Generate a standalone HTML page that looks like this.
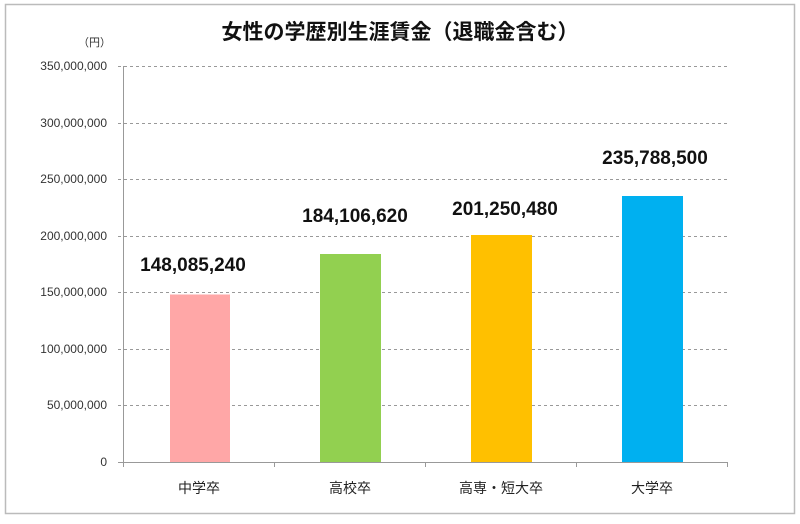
<!DOCTYPE html><html><head><meta charset="utf-8"><style>
body{margin:0;background:#fff;font-family:"Liberation Sans","Noto Sans CJK JP",sans-serif}
</style></head><body>
<svg width="800" height="519" xmlns="http://www.w3.org/2000/svg" font-family="Liberation Sans, Noto Sans CJK JP, sans-serif">
<rect x="5.5" y="4.5" width="789" height="509" fill="#fff" stroke="#bbb" stroke-width="1.5"/>
<text x="400" y="39" text-anchor="middle" font-size="21" font-weight="bold" fill="#111">女性の学歴別生涯賃金（退職金含む）</text>
<text x="111" y="46" text-anchor="end" font-size="11" fill="#333">（円）</text>
<g stroke="#999" stroke-dasharray="3,3" stroke-width="1">
<line x1="118" y1="66.5" x2="727" y2="66.5"/><line x1="118" y1="123.5" x2="727" y2="123.5"/>
<line x1="118" y1="179.5" x2="727" y2="179.5"/><line x1="118" y1="236.5" x2="727" y2="236.5"/>
<line x1="118" y1="292.5" x2="727" y2="292.5"/><line x1="118" y1="349.5" x2="727" y2="349.5"/>
<line x1="118" y1="405.5" x2="727" y2="405.5"/>
</g>
<g font-size="12" fill="#333" text-anchor="end">
<text x="107" y="70">350,000,000</text><text x="107" y="127">300,000,000</text>
<text x="107" y="183">250,000,000</text><text x="107" y="240">200,000,000</text>
<text x="107" y="296">150,000,000</text><text x="107" y="353">100,000,000</text>
<text x="107" y="409">50,000,000</text><text x="107" y="466">0</text>
</g>
<rect x="170" y="294.5" width="60" height="168" fill="#ffa7a7"/>
<rect x="320" y="254" width="61" height="208.5" fill="#92d050"/>
<rect x="471" y="235" width="61" height="227.5" fill="#ffc000"/>
<rect x="622" y="196" width="61" height="266.5" fill="#00b0f0"/>
<g stroke="#999" stroke-width="1">
<line x1="123.5" y1="66" x2="123.5" y2="467"/>
<line x1="118" y1="462.5" x2="727" y2="462.5"/>
<line x1="274.5" y1="462" x2="274.5" y2="467"/><line x1="425.5" y1="462" x2="425.5" y2="467"/>
<line x1="576.5" y1="462" x2="576.5" y2="467"/><line x1="727.5" y1="462" x2="727.5" y2="467"/>
</g>
<g font-size="14" fill="#222" text-anchor="middle">
<text x="199" y="493">中学卒</text><text x="350" y="493">高校卒</text>
<text x="501" y="493">高専・短大卒</text><text x="652" y="493">大学卒</text>
</g>
<g font-size="19" font-weight="bold" fill="#111" text-anchor="middle">
<text x="193" y="271">148,085,240</text><text x="355" y="222">184,106,620</text>
<text x="505" y="215">201,250,480</text><text x="655" y="164">235,788,500</text>
</g>
</svg></body></html>
